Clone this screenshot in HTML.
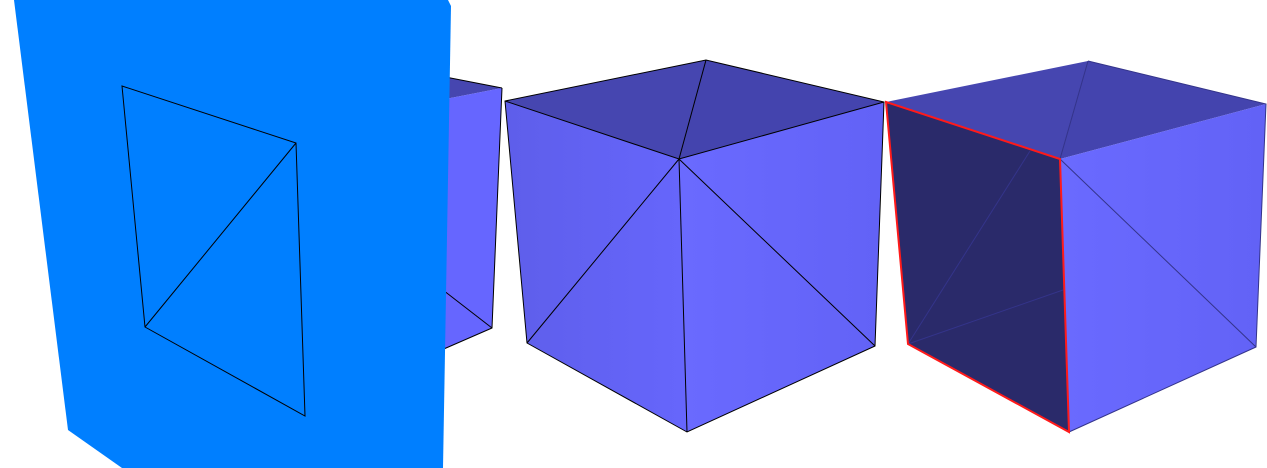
<!DOCTYPE html>
<html><head><meta charset="utf-8"><style>
html,body{margin:0;padding:0;background:#fff;width:1267px;height:468px;overflow:hidden}
svg{display:block}
</style></head><body>
<svg width="1267" height="468" viewBox="0 0 1267 468">
<defs>
<linearGradient id="gl" x1="0" y1="0" x2="1" y2="0"><stop offset="0" stop-color="#5e5eea"/><stop offset="1" stop-color="#6666fc"/></linearGradient>
<linearGradient id="gr" x1="0" y1="0" x2="1" y2="0"><stop offset="0" stop-color="#6a6aff"/><stop offset="1" stop-color="#6262f6"/></linearGradient>
</defs>
<g>
<polygon points="430,74 502,88 430,102" fill="#4646b0"/>
<polygon points="430,102 502,88 492,328 430,355" fill="#6666ff"/>
<polyline points="502,88 492,328 430,355" fill="none" stroke="#000" stroke-width="1"/>
<line x1="430" y1="280" x2="492" y2="328" stroke="#000" stroke-width="1"/>
<line x1="430" y1="74" x2="502" y2="88" stroke="#000" stroke-width="1"/>
</g>
<g>
<polygon points="14,0 448,0 451,6 443,468 122,468 68,430" fill="#007fff"/>
<polygon points="122,86 296,143 305,416 145,327" fill="none" stroke="#000" stroke-width="1"/>
<line x1="296" y1="143" x2="145" y2="327" stroke="#000" stroke-width="1"/>
</g>
<g>
<polygon points="505,101 706,60 679,159" fill="#4646b0"/>
<polygon points="706,60 884,102 679,159" fill="#4444ae"/>
<polygon points="505,101 679,159 687,432 527,343" fill="url(#gl)"/>
<polygon points="679,159 884,102 875,346 687,432" fill="url(#gr)"/>
<g fill="none" stroke="#000" stroke-width="1">
<polygon points="505,101 706,60 884,102 875,346 687,432 527,343"/>
<polyline points="505,101 679,159 884,102"/>
<line x1="706" y1="60" x2="679" y2="159"/>
<line x1="679" y1="159" x2="687" y2="432"/>
<line x1="679" y1="159" x2="527" y2="343"/>
<line x1="679" y1="159" x2="875" y2="346"/>
</g>
</g>
<g>
<polygon points="886,102 1088,61 1060,159" fill="#4646b0"/>
<polygon points="1088,61 1266,104 1060,159" fill="#4444ae"/>
<polygon points="1060,159 1266,104 1256,347 1069,432" fill="url(#gr)"/>
<polygon points="886,102 1060,159 1069,432 908,344" fill="#2a2a6a"/>
<g fill="none" stroke="#34348a" stroke-width="1">
<line x1="1088" y1="61" x2="1060" y2="159"/>
<line x1="1030" y1="151" x2="908" y2="344"/>
<line x1="908" y1="344" x2="1063" y2="290"/>
<line x1="1060" y1="159" x2="1256" y2="347"/>
<polyline points="1088,61 1266,104 1256,347 1069,432"/>
</g>
<polygon points="886,102 1060,159 1069,432 908,344" fill="none" stroke="#ff1a1a" stroke-width="2"/>
</g>
</svg>
</body></html>
